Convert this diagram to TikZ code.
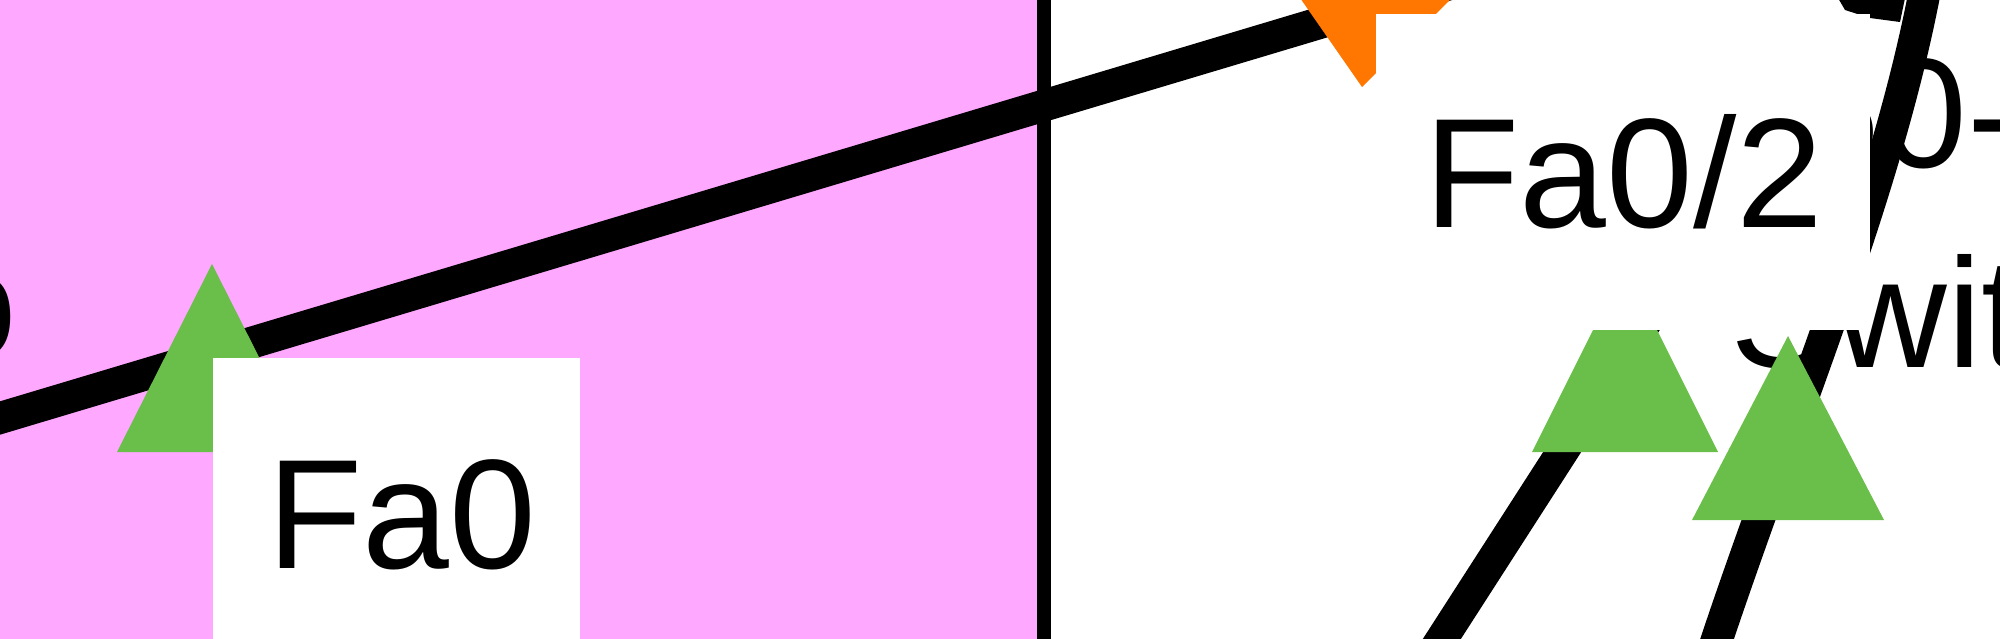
\documentclass[tikz,border=0pt]{standalone}
\usepackage{fontspec}
\setmainfont{Liberation Sans}
\definecolor{pinkarea}{RGB}{255,168,255}
\definecolor{portgreen}{RGB}{106,190,74}
\definecolor{portorange}{RGB}{255,119,0}
\begin{document}
\begin{tikzpicture}[x=0.5pt,y=-0.5pt,
  link/.style={line width=16pt, draw=black},
  portlight/.style={fill=portgreen, draw=none},
  blocklight/.style={fill=portorange, draw=none},
  labelbox/.style={fill=white, draw=none, inner sep=0pt, anchor=north west},
  lbl/.style={inner sep=0pt, anchor=base west, font=\fontsize{78pt}{90pt}\selectfont, text=black}]
\useasboundingbox (0,0) rectangle (2000,638);
\clip (0,0) rectangle (2000,638);
% cluster area
\fill[pinkarea] (-20,-20) rectangle (1044,700);
\draw[line width=7pt] (1044,-20) -- (1044,700);
% device texts (partly hidden)
\node[lbl] (leftlabel) at (-70,358) {o};
\node[lbl] (swname) at (1730,367) {Switch0};
\node[lbl] (swmodel) at (1620,167) {2960-24TT};
% links
\coordinate (l1a) at (-10,421);
\coordinate (l1b) at (1500,-31);
\coordinate (l2a) at (1436,648);
\coordinate (l2b) at (1660,300);
\coordinate (l3a) at (1714,648);
\coordinate (l3b) at (1925,-10);
\draw[link] (l1a) -- (l1b);
\draw[link] (l2a) -- (l2b);
\draw[link] (l3a) .. controls (1790,420) and (1885,200) .. (l3b);
\fill[black] (1838,-2) -- (1905,-2) -- (1900,22) -- (1870,18) -- (1845,10) -- cycle;
% link lights
\fill[portlight] (212,264) -- (307,452) -- (117,452) -- cycle;
\fill[portlight] (1625,266) -- (1718,452) -- (1532,452) -- cycle;
\fill[portlight] (1788,336) -- (1884,520) -- (1692,520) -- cycle;
\fill[blocklight] (1298,-5) -- (1362,87) -- (1455,-5) -- cycle;
% port labels
\node[labelbox, minimum width=183.5pt, minimum height=200pt] (fa0box) at (213,358) {};
\node[lbl] (fa0) at (267,568) {Fa0};
\node[labelbox, minimum width=247pt, minimum height=158pt] (fa02box) at (1376,14) {};
\node[lbl] (fa02) at (1424,227) {Fa0/2};
\end{tikzpicture}
\end{document}
